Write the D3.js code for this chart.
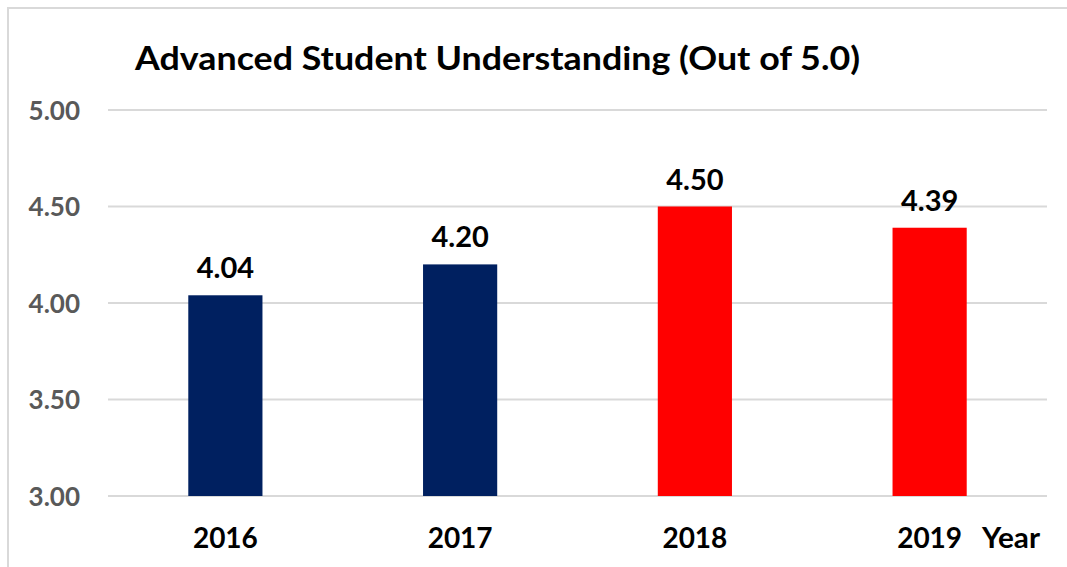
<!DOCTYPE html>
<html>
<head>
<meta charset="utf-8">
<script src="https://cdn.jsdelivr.net/npm/d3@7"></script>
<style>
  html, body { margin: 0; padding: 0; background: #ffffff; }
  svg { display: block; }
</style>
</head>
<body>
<svg id="chart" width="1067" height="567"></svg>
<script>
const title = "Advanced Student Understanding (Out of 5.0)";
const years = ["2016", "2017", "2018", "2019"];
const scores = [4.04, 4.20, 4.50, 4.39];
const barColors = ["#002060", "#002060", "#FF0000", "#FF0000"];
const yTicks = [3.00, 3.50, 4.00, 4.50, 5.00];
const xAxisTitle = "Year";

const svg = d3.select("#chart");
const W = 1067, H = 567;
const plot = { left: 108, right: 1047, top: 110, bottom: 496 };
const font = "Lato, 'Open Sans', sans-serif";

// frame (top and left edges visible)
svg.append("line").attr("x1", 8).attr("x2", W).attr("y1", 8).attr("y2", 8)
  .attr("stroke", "#d9d9d9").attr("stroke-width", 2);
svg.append("line").attr("x1", 8).attr("x2", 8).attr("y1", 7).attr("y2", H)
  .attr("stroke", "#d9d9d9").attr("stroke-width", 2);

const x = d3.scaleBand().domain(years).range([plot.left, plot.right]).paddingInner(0.684).paddingOuter(0.342);
const y = d3.scaleLinear().domain([3, 5]).range([plot.bottom, plot.top]);

// gridlines
svg.append("g").selectAll("line").data(yTicks).join("line")
  .attr("x1", plot.left).attr("x2", plot.right)
  .attr("y1", d => y(d)).attr("y2", d => y(d))
  .attr("stroke", "#d9d9d9").attr("stroke-width", 2);

// y axis labels
const yAxis = d3.axisLeft(y).tickValues(yTicks).tickFormat(d3.format(".2f")).tickSize(0).tickPadding(0);
const gy = svg.append("g").attr("transform", `translate(80,0)`).call(yAxis);
gy.select(".domain").remove();
gy.selectAll("text").attr("font-family", font).attr("font-size", 26).attr("font-weight", "bold")
  .attr("fill", "#595959").attr("dy", "0.35em");

// bars
svg.append("g").selectAll("rect").data(years).join("rect")
  .attr("x", d => x(d))
  .attr("width", x.bandwidth())
  .attr("y", (d, i) => y(scores[i]))
  .attr("height", (d, i) => y(3) - y(scores[i]))
  .attr("fill", (d, i) => barColors[i]);

// value labels
svg.append("g").selectAll("text").data(years).join("text")
  .attr("x", d => x(d) + x.bandwidth() / 2)
  .attr("y", (d, i) => y(scores[i]) - 17)
  .attr("text-anchor", "middle")
  .attr("font-family", font).attr("font-size", 29).attr("font-weight", "bold")
  .attr("fill", "#000")
  .text((d, i) => d3.format(".2f")(scores[i]));

// x axis labels
const xAxis = d3.axisBottom(x).tickSize(0).tickPadding(0);
const gx = svg.append("g").attr("transform", `translate(0,548)`).call(xAxis);
gx.select(".domain").remove();
gx.selectAll("text").attr("font-family", font).attr("font-size", 28).attr("font-weight", "bold")
  .attr("fill", "#000").attr("dy", 0);

// axis title
svg.append("text").attr("x", 982).attr("y", 548)
  .attr("font-family", font).attr("font-size", 28).attr("font-weight", "bold")
  .attr("fill", "#000")
  .attr("textLength", 58).attr("lengthAdjust", "spacingAndGlyphs")
  .text(xAxisTitle);

// chart title
svg.append("text").attr("x", 135).attr("y", 70)
  .attr("font-family", font).attr("font-size", 33).attr("font-weight", "bold")
  .attr("fill", "#000")
  .attr("textLength", 725).attr("lengthAdjust", "spacingAndGlyphs")
  .text(title);
</script>
</body>
</html>
